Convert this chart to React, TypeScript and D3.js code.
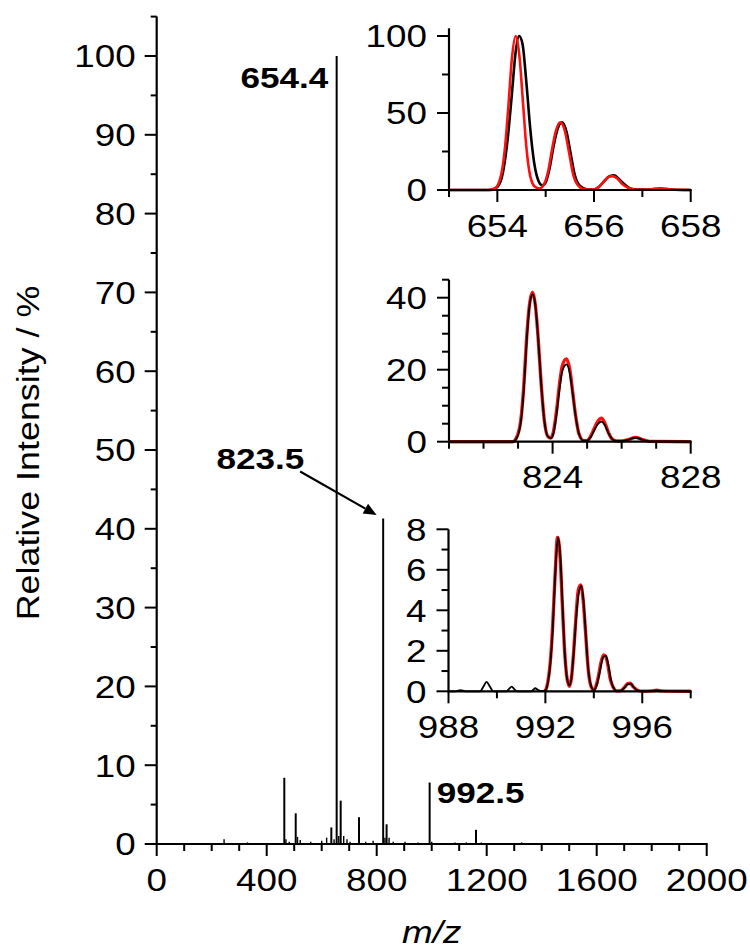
import React from 'react';
import * as d3 from 'd3';

// ---------- DATA ----------
const mainMz = [245, 330, 464, 470, 482, 505.5, 512, 522, 560, 600, 618, 635, 645, 654.4, 662, 669, 680, 692, 703, 735.6, 760, 787, 823.5, 830, 836, 845, 860, 903, 950, 992.5, 1000, 1085, 1126, 1161, 1180, 1327];
const mainInt = [0.6, 0.2, 8.4, 0.6, 0.3, 3.9, 0.9, 0.5, 0.3, 0.4, 0.8, 2.1, 0.6, 100, 1.0, 5.5, 1.0, 0.6, 0.3, 3.4, 0.3, 0.4, 41.3, 0.8, 2.5, 0.8, 0.3, 0.3, 0.2, 7.8, 0.3, 0.2, 0.2, 1.8, 0.2, 0.2];
const mainXTickLabels = [0, 400, 800, 1200, 1600, 2000];
const mainYTickLabels = [0, 10, 20, 30, 40, 50, 60, 70, 80, 90, 100];
const peakLabels = ['654.4', '823.5', '992.5'];

const inset1Black: [number, number][] = [[653, 0], [653.85, 0], [654.0, 2], [654.12, 12], [654.22, 35], [654.3, 62], [654.38, 90], [654.45, 100], [654.52, 95], [654.6, 70], [654.68, 40], [654.76, 18], [654.85, 6], [654.93, 3], [655.0, 5], [655.08, 14], [655.16, 28], [655.25, 40], [655.34, 44], [655.43, 38], [655.52, 23], [655.6, 10], [655.7, 3], [655.85, 0.5], [655.98, 0.3], [656.1, 2], [656.22, 6], [656.32, 9], [656.42, 9.5], [656.52, 7], [656.62, 4], [656.75, 1], [656.9, 0.3], [657.1, 0.3], [657.38, 1], [657.6, 0.3], [658, 0]];
const inset1Red: [number, number][] = [[653, 0], [653.8, 0], [653.95, 1], [654.08, 10], [654.16, 28], [654.23, 55], [654.3, 85], [654.38, 100], [654.46, 86], [654.53, 57], [654.6, 28], [654.68, 9], [654.78, 2], [654.87, 1], [654.97, 4], [655.05, 12], [655.13, 26], [655.2, 37], [655.3, 44], [655.4, 38], [655.48, 25], [655.57, 10], [655.67, 3], [655.8, 0.5], [655.98, 0.3], [656.1, 2], [656.2, 5.5], [656.3, 8.5], [656.38, 9], [656.48, 7.5], [656.58, 4], [656.7, 1.5], [656.85, 0.3], [657.1, 0.3], [657.35, 1], [657.6, 0.3], [658, 0]];

const inset2Black: [number, number][] = [[821, 0], [822.85, 0], [822.95, 0.8], [823.08, 5.5], [823.17, 15], [823.25, 28], [823.33, 37.5], [823.42, 41], [823.5, 38], [823.58, 29], [823.67, 16], [823.76, 6], [823.86, 1.5], [823.95, 1], [824.03, 2.5], [824.12, 8], [824.2, 14.5], [824.28, 19.5], [824.4, 21.5], [824.5, 19], [824.58, 13.5], [824.67, 7], [824.77, 2], [824.9, 0.3], [825.0, 0.3], [825.1, 1.2], [825.2, 3], [825.3, 4.8], [825.42, 5.6], [825.52, 4.5], [825.62, 2.3], [825.72, 0.8], [825.85, 0.2], [826.0, 0.2], [826.2, 0.6], [826.4, 1.1], [826.6, 0.6], [826.8, 0.1], [828, 0]];
const inset2Red: [number, number][] = [[821, 0], [822.85, 0], [822.95, 1], [823.08, 6], [823.17, 16], [823.25, 29], [823.33, 38], [823.42, 41.5], [823.5, 38], [823.58, 29], [823.67, 16], [823.76, 6], [823.86, 1.5], [823.95, 1], [824.03, 3], [824.12, 9], [824.2, 16], [824.28, 21], [824.4, 23], [824.5, 20], [824.58, 14], [824.67, 7], [824.77, 2], [824.9, 0.3], [825.0, 0.3], [825.1, 1.5], [825.2, 3.5], [825.3, 5.5], [825.42, 6.5], [825.52, 5], [825.62, 2.5], [825.72, 0.8], [825.85, 0.2], [826.0, 0.2], [826.2, 0.6], [826.4, 1.2], [826.6, 0.6], [826.8, 0.1], [828, 0]];

const inset3Black: [number, number][] = [[988, 0], [988.3, 0], [988.5, 0.06], [988.7, 0], [989.3, 0], [989.45, 0.25], [989.57, 0.47], [989.7, 0.25], [989.85, 0], [990.4, 0], [990.5, 0.12], [990.61, 0.23], [990.72, 0.1], [990.85, 0], [991.4, 0], [991.5, 0.08], [991.58, 0.15], [991.68, 0.08], [991.8, 0.02], [992.0, 0.05], [992.1, 0.4], [992.2, 1.3], [992.3, 3.0], [992.4, 5.6], [992.52, 7.6], [992.62, 6.6], [992.71, 4.2], [992.8, 1.9], [992.9, 0.6], [993.0, 0.3], [993.08, 0.7], [993.17, 1.9], [993.27, 3.6], [993.37, 4.8], [993.48, 5.2], [993.58, 4.4], [993.67, 2.8], [993.77, 1.1], [993.88, 0.3], [994.0, 0.05], [994.12, 0.3], [994.22, 0.8], [994.32, 1.4], [994.4, 1.7], [994.5, 1.75], [994.6, 1.3], [994.7, 0.6], [994.8, 0.2], [994.95, 0.02], [995.1, 0.02], [995.25, 0.15], [995.4, 0.35], [995.52, 0.38], [995.65, 0.2], [995.8, 0.05], [996, 0], [996.4, 0.02], [996.6, 0.05], [996.8, 0.02], [998, 0]];
const inset3Red: [number, number][] = [[992.0, 0], [992.1, 0.45], [992.2, 1.4], [992.3, 3.2], [992.4, 5.7], [992.5, 7.6], [992.6, 6.8], [992.7, 4.3], [992.8, 1.9], [992.9, 0.6], [993.0, 0.25], [993.08, 0.7], [993.17, 2.0], [993.27, 3.8], [993.36, 5.0], [993.46, 5.25], [993.56, 4.5], [993.66, 2.9], [993.76, 1.2], [993.87, 0.3], [994.0, 0.05], [994.1, 0.3], [994.2, 0.8], [994.3, 1.45], [994.4, 1.8], [994.48, 1.75], [994.58, 1.3], [994.68, 0.6], [994.8, 0.2], [994.95, 0.02], [995.1, 0.03], [995.25, 0.18], [995.4, 0.38], [995.5, 0.4], [995.63, 0.22], [995.8, 0.05], [996, 0], [996.4, 0.02], [996.6, 0.05], [996.8, 0.02], [998, 0]];

const inset1XLabels = [654, 656, 658];
const inset1YLabels = [0, 50, 100];
const inset2XLabels = [824, 828];
const inset2YLabels = [0, 20, 40];
const inset3XLabels = [988, 992, 996];
const inset3YLabels = [0, 2, 4, 6, 8];

// ---------- STYLE ----------
const FONT = "'Liberation Sans', Arial, Helvetica, sans-serif";
const SX = 1.15;
const TICK_SIZE = 32;
const RED = '#ff1010';

type TxtProps = {
  x: number; y: number; anchor?: 'start' | 'middle' | 'end'; size?: number; weight?: string; italic?: boolean; rot?: number; sx?: number; children: React.ReactNode;
};
function Txt({ x, y, anchor = 'middle', size = TICK_SIZE, weight = 'normal', italic = false, rot = 0, sx = SX, children }: TxtProps) {
  const tr = `translate(${x},${y})${rot ? ` rotate(${rot})` : ''} scale(${sx},1)`;
  return (
    <text transform={tr} textAnchor={anchor} fontFamily={FONT} fontSize={size} fontWeight={weight} fontStyle={italic ? 'italic' : 'normal'} fill="#000">
      {children}
    </text>
  );
}

type InsetProps = {
  xDomain: [number, number]; xRange: [number, number];
  yDomain: [number, number]; yRange: [number, number]; yTop: number;
  xTickStep: number; xLabels: number[];
  yTickStep: number; yLabels: number[];
  series: { data: [number, number][]; color: string; width: number }[];
};

function Inset({ xDomain, xRange, yDomain, yRange, yTop, xTickStep, xLabels, yTickStep, yLabels, series }: InsetProps) {
  const x = d3.scaleLinear().domain(xDomain).range(xRange);
  const y = d3.scaleLinear().domain(yDomain).range(yRange);
  const line = d3.line<[number, number]>().x(d => x(d[0])).y(d => y(d[1])).curve(d3.curveMonotoneX);
  const xt = d3.range(xDomain[0], xDomain[1] + 1e-9, xTickStep);
  const yt = d3.range(yDomain[0], yTop + 1e-9, yTickStep);
  const y0 = y(yDomain[0]);
  const x0 = x(xDomain[0]);
  const cap = TICK_SIZE * 0.716;
  return (
    <g>
      {series.map((s, i) => (
        <path key={i} d={line(s.data) || ''} fill="none" stroke={s.color} strokeWidth={s.width} strokeLinejoin="round" />
      ))}
      <line x1={x0} x2={x0} y1={y0 + 1} y2={y(yTop)} stroke="#000" strokeWidth={2.2} />
      <line x1={x0 - 1} x2={x(xDomain[1]) + 1} y1={y0} y2={y0} stroke="#000" strokeWidth={2.2} />
      {xt.map(v => {
        const major = xLabels.includes(v);
        return <line key={'xt' + v} x1={x(v)} x2={x(v)} y1={y0} y2={y0 + (major ? 12 : 7)} stroke="#000" strokeWidth={2} />;
      })}
      {yt.map(v => {
        const major = yLabels.includes(v);
        return <line key={'yt' + v} x1={x0} x2={x0 - (major ? 12 : 7)} y1={y(v)} y2={y(v)} stroke="#000" strokeWidth={2} />;
      })}
      {xLabels.map(v => (
        <Txt key={'xl' + v} x={x(v)} y={y0 + 46.5}>{v}</Txt>
      ))}
      {yLabels.map(v => (
        <Txt key={'yl' + v} x={x0 - 22} y={y(v) + cap / 2} anchor="end">{v}</Txt>
      ))}
    </g>
  );
}

export default function App() {
  const x = d3.scaleLinear().domain([0, 2000]).range([156.7, 706.7]);
  const y = d3.scaleLinear().domain([0, 100]).range([844, 56]);
  const cap = TICK_SIZE * 0.716;
  const xt = d3.range(0, 2001, 100);
  const yt = d3.range(0, 105.1, 5);

  const p1 = { x: x(654.4), y: y(100) };
  const p2 = { x: x(823.5), y: y(41.3) };
  const p3 = { x: x(992.5), y: y(7.8) };

  const arrowStart = [p2.x - 83, p2.y - 47];
  const arrowEnd = [p2.x - 6.5, p2.y - 3.5];
  const ang = Math.atan2(arrowEnd[1] - arrowStart[1], arrowEnd[0] - arrowStart[0]);
  const ah = 13, aw = 5.5;
  const bx = arrowEnd[0] - ah * Math.cos(ang), by = arrowEnd[1] - ah * Math.sin(ang);
  const head = `M${arrowEnd[0]},${arrowEnd[1]} L${bx + aw * Math.sin(ang)},${by - aw * Math.cos(ang)} L${bx - aw * Math.sin(ang)},${by + aw * Math.cos(ang)} Z`;

  return (
    <svg width={750} height={952} style={{ position: 'absolute', left: 0, top: 0, background: '#fff' }}>
      <rect x={0} y={0} width={750} height={952} fill="#fff" />
      {/* sticks */}
      {mainMz.map((m, i) => (
        <line key={'s' + i} x1={x(m)} x2={x(m)} y1={y(0)} y2={y(mainInt[i])} stroke="#000" strokeWidth={mainInt[i] > 1.5 ? 2 : 1.4} />
      ))}
      {/* axes */}
      <line x1={x(0)} x2={x(0)} y1={y(0) + 1} y2={y(105)} stroke="#000" strokeWidth={2.2} />
      <line x1={x(0) - 1} x2={x(2000) + 1} y1={y(0)} y2={y(0)} stroke="#000" strokeWidth={2.2} />
      {xt.map(v => {
        const major = mainXTickLabels.includes(v);
        return <line key={'mx' + v} x1={x(v)} x2={x(v)} y1={y(0)} y2={y(0) + (major ? 12 : 7)} stroke="#000" strokeWidth={2} />;
      })}
      {yt.map(v => {
        const major = mainYTickLabels.includes(v);
        return <line key={'my' + v} x1={x(0)} x2={x(0) - (major ? 12 : 6)} y1={y(v)} y2={y(v)} stroke="#000" strokeWidth={2} />;
      })}
      {mainXTickLabels.map(v => (
        <Txt key={'mxl' + v} x={x(v)} y={y(0) + 46.5}>{v}</Txt>
      ))}
      {mainYTickLabels.map(v => (
        <Txt key={'myl' + v} x={x(0) - 21} y={y(v) + cap / 2} anchor="end">{v}</Txt>
      ))}
      <Txt x={(x(0) + x(2000)) / 2} y={943} italic>m/z</Txt>
      <Txt x={39} y={y(50) + 3} rot={-90} sx={1.12}>Relative Intensity / %</Txt>

      {/* peak labels */}
      <Txt x={p1.x - 8.5} y={p1.y + 32} anchor="end" size={30} weight="bold" sx={1.17}>{peakLabels[0]}</Txt>
      <Txt x={p2.x - 79} y={p2.y - 49.5} anchor="end" size={30} weight="bold" sx={1.17}>{peakLabels[1]}</Txt>
      <Txt x={p3.x + 7} y={p3.y + 20.5} anchor="start" size={30} weight="bold" sx={1.17}>{peakLabels[2]}</Txt>
      <line x1={arrowStart[0]} y1={arrowStart[1]} x2={bx} y2={by} stroke="#000" strokeWidth={2.2} />
      <path d={head} fill="#000" />

      {/* insets */}
      <Inset xDomain={[653, 658]} xRange={[449, 690.7]} yDomain={[0, 100]} yRange={[190, 36]} yTop={105}
        xTickStep={1} xLabels={inset1XLabels} yTickStep={25} yLabels={inset1YLabels}
        series={[{ data: inset1Black, color: '#000', width: 2.6 }, { data: inset1Red, color: RED, width: 2.6 }]} />
      <Inset xDomain={[821, 828]} xRange={[449, 690.7]} yDomain={[0, 40]} yRange={[441.7, 297.7]} yTop={45}
        xTickStep={1} xLabels={inset2XLabels} yTickStep={5} yLabels={inset2YLabels}
        series={[{ data: inset2Red, color: RED, width: 3.4 }, { data: inset2Black, color: '#000', width: 1.8 }]} />
      <Inset xDomain={[988, 998]} xRange={[448.5, 690.7]} yDomain={[0, 8]} yRange={[691.3, 529.3]} yTop={8}
        xTickStep={2} xLabels={inset3XLabels} yTickStep={1} yLabels={inset3YLabels}
        series={[{ data: inset3Red, color: RED, width: 3.4 }, { data: inset3Black, color: '#000', width: 1.8 }]} />
    </svg>
  );
}
